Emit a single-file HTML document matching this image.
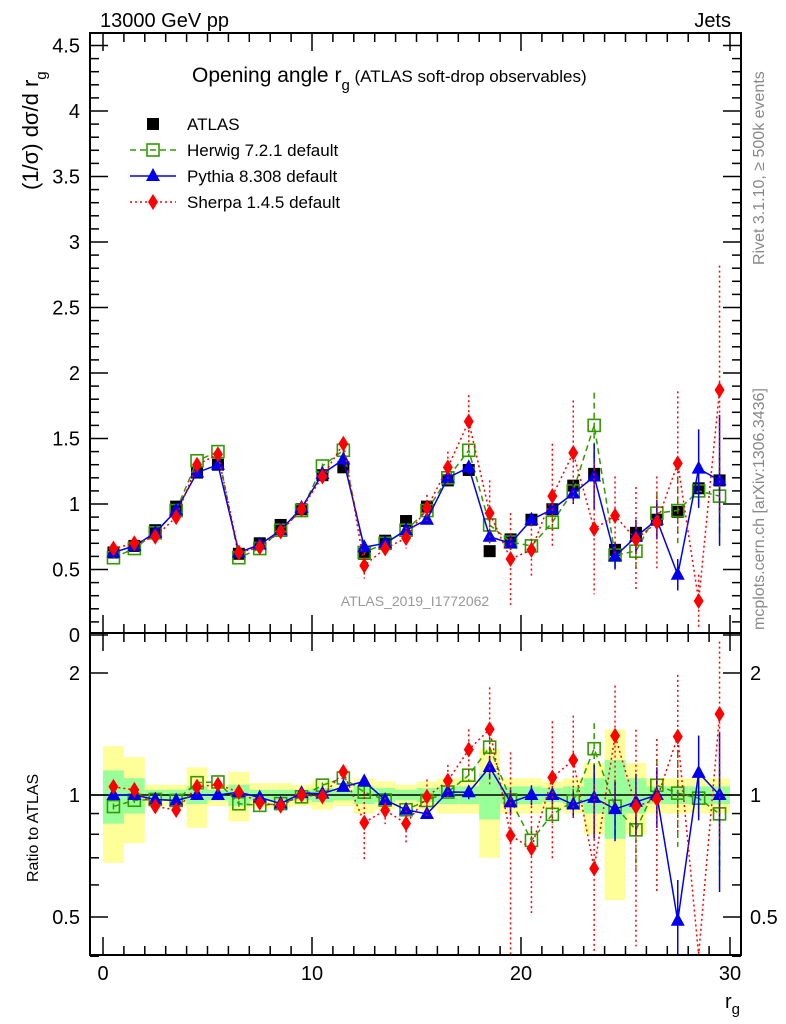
<!DOCTYPE html>
<html><head><meta charset="utf-8"><style>
body{margin:0;background:#fff;}
svg{display:block;font-family:"Liberation Sans",sans-serif;}
</style></head><body>
<svg id="c" width="786" height="1024" viewBox="0 0 786 1024"></svg>
<script>
const categories=[0.5,1.5,2.5,3.5,4.5,5.5,6.5,7.5,8.5,9.5,10.5,11.5,12.5,13.5,14.5,15.5,16.5,17.5,18.5,19.5,20.5,21.5,22.5,23.5,24.5,25.5,26.5,27.5,28.5,29.5];
const atlasVals=[0.63,0.68,0.80,0.98,1.24,1.30,0.62,0.70,0.84,0.96,1.22,1.28,0.62,0.72,0.87,0.98,1.18,1.26,0.64,0.73,0.88,0.96,1.14,1.23,0.65,0.78,0.88,0.94,1.12,1.18];
const herwigVals=[0.59,0.66,0.78,0.95,1.33,1.40,0.59,0.66,0.80,0.95,1.29,1.41,0.63,0.70,0.80,0.95,1.20,1.41,0.84,0.71,0.68,0.86,1.10,1.60,0.61,0.64,0.93,0.95,1.10,1.06];
const pythiaVals=[0.63,0.68,0.78,0.95,1.24,1.30,0.63,0.69,0.80,0.97,1.23,1.34,0.67,0.70,0.80,0.88,1.20,1.28,0.75,0.70,0.88,0.96,1.08,1.21,0.60,0.75,0.88,0.46,1.27,1.18];
const sherpaVals=[0.66,0.70,0.75,0.90,1.30,1.38,0.63,0.67,0.79,0.96,1.21,1.46,0.53,0.66,0.74,0.97,1.28,1.63,0.93,0.58,0.65,1.06,1.39,0.81,0.91,0.73,0.86,1.31,0.26,1.87];
const herwigErr=[0.01,0.01,0.01,0.01,0.01,0.01,0.01,0.01,0.01,0.01,0.02,0.02,0.02,0.02,0.02,0.02,0.03,0.05,0.05,0.05,0.05,0.05,0.08,0.25,0.1,0.13,0.15,0.25,0.1,0.3];
const pythiaErr=[0.01,0.01,0.01,0.01,0.01,0.01,0.01,0.01,0.01,0.01,0.02,0.02,0.02,0.02,0.02,0.02,0.03,0.05,0.05,0.05,0.05,0.05,0.08,0.25,0.1,0.13,0.15,0.12,0.3,0.5];
const sherpaErr=[0.01,0.01,0.01,0.02,0.02,0.02,0.02,0.02,0.02,0.02,0.02,0.04,0.1,0.05,0.08,0.1,0.12,0.2,0.25,0.35,0.2,0.4,0.4,0.5,0.3,0.4,0.35,0.55,0.2,0.95];
const yellowBand=[0.32,0.24,0.06,0.06,0.17,0.06,0.14,0.07,0.07,0.06,0.08,0.06,0.1,0.08,0.06,0.08,0.1,0.1,0.3,0.1,0.1,0.08,0.1,0.2,0.45,0.2,0.1,0.1,0.1,0.1];
const greenBand=[0.15,0.1,0.03,0.03,0.05,0.03,0.06,0.03,0.03,0.03,0.04,0.03,0.05,0.04,0.03,0.04,0.05,0.05,0.13,0.05,0.05,0.04,0.05,0.1,0.22,0.1,0.05,0.05,0.05,0.05];
const xTicks=[0,10,20,30];
const yTicks=[0,0.5,1,1.5,2,2.5,3,3.5,4,4.5];
const rTicks=[0.5,1,2];

const NS="http://www.w3.org/2000/svg";
const svg=document.getElementById('c');
function el(t,a,p){const e=document.createElementNS(NS,t);for(const k in a)e.setAttribute(k,a[k]);(p||svg).appendChild(e);return e;}
const L=90,R=741,T=33,MB=633,RB=955;
const X=v=>103+v*(730-103)/30;
const Y=v=>635-v*131;
const RY=v=>795-Math.log2(v)*122;
const cl=(v,a,b)=>Math.max(a,Math.min(b,v));

categories.forEach((c,i)=>{
  const x0=X(c-0.5),x1=X(c+0.5);
  let y1=RY(1+yellowBand[i]),y2=RY(Math.max(0.3,1-yellowBand[i]));
  let r=el('rect',{x:x0,y:y1,width:x1-x0,height:y2-y1,fill:'#ffff99'});
  
  
  y1=RY(1+greenBand[i]);y2=RY(1-greenBand[i]);
  r=el('rect',{x:x0,y:y1,width:x1-x0,height:y2-y1,fill:'#99ff99'});
  
  
});
el('line',{x1:L,x2:R,y1:RY(1),y2:RY(1),stroke:'#000','stroke-width':1.5});

const series=[
 {name:'herwig',vals:herwigVals,err:herwigErr,col:'#339900',dash:'6,4',m:'sq'},
 {name:'pythia',vals:pythiaVals,err:pythiaErr,col:'#0000ee',dash:'',m:'tri'},
 {name:'sherpa',vals:sherpaVals,err:sherpaErr,col:'#ff0000',dash:'2,3',m:'dia'}];
function marker(t,x,y,col,g){
  if(t==='sq')return el('rect',{x:x-6,y:y-6,width:12,height:12,fill:'none',stroke:col,'stroke-width':1.6},g);
  if(t==='tri')return el('polygon',{points:`${x},${y-8} ${x-7},${y+5} ${x+7},${y+5}`,fill:col},g);
  if(t==='dia')return el('polygon',{points:`${x},${y-8} ${x-5},${y} ${x},${y+8} ${x+5},${y}`,fill:col},g);
  return el('rect',{x:x-6,y:y-6,width:12,height:12,fill:'#000'},g);
}
categories.forEach((c,i)=>{const m=marker('atlas',X(c),Y(atlasVals[i]),'#000');});
series.forEach(s=>{
  const g=el('g',{});
  
  
  const gr=el('g',{});
  
  
  el('polyline',{points:categories.map((c,i)=>X(c)+','+Y(s.vals[i])).join(' '),fill:'none',stroke:s.col,'stroke-width':1.5,'stroke-dasharray':s.dash},g);
  el('polyline',{points:categories.map((c,i)=>X(c)+','+cl(RY(s.vals[i]/atlasVals[i]),T+600,RB)).join(' '),fill:'none',stroke:s.col,'stroke-width':1.5,'stroke-dasharray':s.dash},gr);
  categories.forEach((c,i)=>{
    const x=X(c),v=s.vals[i],e=s.err[i];
    el('line',{x1:x,x2:x,y1:Y(v+e),y2:cl(Y(Math.max(0,v-e)),T,MB),stroke:s.col,'stroke-width':1.5,'stroke-dasharray':s.dash},g);
    const r=v/atlasVals[i],re=e/atlasVals[i];
    el('line',{x1:x,x2:x,y1:cl(RY(r+re),T+600,RB),y2:cl(RY(Math.max(0.3,r-re)),T+600,RB),stroke:s.col,'stroke-width':1.5,'stroke-dasharray':s.dash},gr);
    marker(s.m,x,Y(v),s.col,g);
    const ry=RY(r);
    if(ry>T+600&&ry<RB)marker(s.m,x,ry,s.col,gr);
  });
});

el('rect',{x:L,y:T,width:R-L,height:MB-T,fill:'none',stroke:'#000','stroke-width':2});
el('rect',{x:L,y:MB,width:R-L,height:RB-MB,fill:'none',stroke:'#000','stroke-width':2});
function tick(x1,y1,x2,y2){el('line',{x1,y1,x2,y2,stroke:'#000','stroke-width':1.5});}
function txt(s,x,y,o){const t=el('text',Object.assign({x,y,'font-size':18},o||{}));t.textContent=s;return t;}
for(let v=0;v<=30;v++){const x=X(v),l=v%10===0?18:9;
  tick(x,MB,x,MB-l);tick(x,T,x,T+l);tick(x,RB,x,RB-l);tick(x,MB,x,MB+l);}
xTicks.forEach(v=>{const t=txt(String(v),X(v),980,{'text-anchor':'middle','font-size':20});});
for(let k=0;k<=46;k++){const v=k/10,y=Y(v);if(y<T)continue;const l=k%5===0?18:9;tick(L,y,L+l,y);tick(R,y,R-l,y);}
yTicks.forEach(v=>{const t=txt(String(v),80,Y(v)+7,{'text-anchor':'end','font-size':20});});
[0.4,0.5,0.6,0.7,0.8,0.9,1,2].forEach(v=>{const y=RY(v),l=rTicks.includes(v)?18:9;tick(L,y,L+l,y);tick(R,y,R-l,y);});
rTicks.forEach(v=>{
  let t=txt(String(v),80,RY(v)+7,{'text-anchor':'end','font-size':20});
  t=txt(String(v),750,RY(v)+7,{'font-size':20});});

let t=txt('13000 GeV pp',100,27,{'font-size':20});
t=txt('Jets',731,27,{'font-size':20,'text-anchor':'end'});
t=el('text',{x:192,y:82,'font-size':21});t.innerHTML='Opening angle r<tspan font-size="15" dy="8">g</tspan><tspan font-size="17" dy="-8"> (ATLAS soft-drop observables)</tspan>';

t=el('text',{transform:'translate(38,190) rotate(-90)','font-size':22});t.innerHTML='(1/σ) dσ/d r<tspan font-size="15" dy="8">g</tspan>';

t=el('text',{transform:'translate(38,882) rotate(-90)','font-size':16});t.textContent='Ratio to ATLAS';

t=el('text',{x:725,y:1008,'font-size':20});t.innerHTML='r<tspan font-size="15" dy="6">g</tspan>';

t=el('text',{transform:'translate(764,265) rotate(-90)','font-size':16,fill:'#888'});t.textContent='Rivet 3.1.10, ≥ 500k events';

t=el('text',{transform:'translate(764,630) rotate(-90)','font-size':16,fill:'#888'});t.textContent='mcplots.cern.ch [arXiv:1306.3436]';

t=txt('ATLAS_2019_I1772062',415,606,{'font-size':14,fill:'#999','text-anchor':'middle'});

const leg=[['ATLAS','atlas','#000',''],['Herwig 7.2.1 default','sq','#339900','6,4'],['Pythia 8.308 default','tri','#0000ee',''],['Sherpa 1.4.5 default','dia','#ff0000','2,3']];
leg.forEach((l,i)=>{const y=124+i*26;const g=el('g',{});
  
  
  if(i>0)el('line',{x1:130,x2:176,y1:y,y2:y,stroke:l[2],'stroke-width':1.5,'stroke-dasharray':l[3]},g);
  marker(l[1],153,y,l[2],g);
  const tt=el('text',{x:187,y:y+6,'font-size':17},g);tt.textContent=l[0];});
</script>
</body></html>
